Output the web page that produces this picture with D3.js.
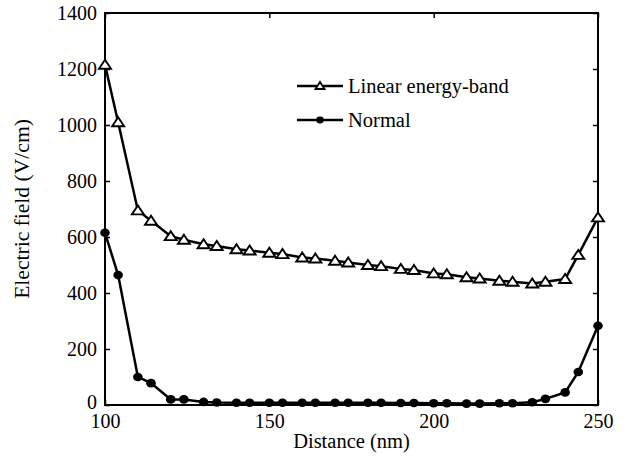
<!DOCTYPE html>
<html>
<head>
<meta charset="utf-8">
<script src="https://cdn.jsdelivr.net/npm/d3@7"></script>
<style>
  body { margin: 0; background: #fff; }
  text { font-family: "Liberation Serif", "Times New Roman", serif; fill: #000; }
</style>
</head>
<body>
<main></main>
<script>
// distance (nm)
const distance = [100, 104, 110, 114, 120, 124, 130, 134, 140, 144, 150, 154, 160, 164, 170, 174,
    180, 184, 190, 194, 200, 204, 210, 214, 220, 224, 230, 234, 240, 244, 250];
// electric field (V/cm)
const linearBand = [1215, 1010, 695, 658, 603, 590, 574, 568, 556, 552, 544, 539, 527, 523, 515, 509,
    500, 496, 486, 482, 470, 467, 456, 452, 444, 440, 434, 440, 450, 536, 670];
const normal = [615, 464, 100, 78, 20, 20, 11, 9, 8, 8, 8, 8, 8, 8, 8, 8,
    8, 8, 7, 7, 6, 6, 5, 5, 6, 6, 10, 22, 45, 118, 283];
const xTicks = [100, 150, 200, 250];
const yTicks = [0, 200, 400, 600, 800, 1000, 1200, 1400];
const seriesNames = ["Linear energy-band", "Normal"];

const width = 628;
const height = 463;
const margin = { top: 13, right: 30, bottom: 58, left: 105 };
const innerW = width - margin.left - margin.right;
const innerH = height - margin.top - margin.bottom;

const svg = d3.select("main")
    .append("svg")
    .attr("width", width)
    .attr("height", height);

const g = svg.append("g")
    .attr("transform", `translate(${margin.left},${margin.top})`);

const xScale = d3.scaleLinear().domain([100, 250]).range([0, innerW]);
const yScale = d3.scaleLinear().domain([0, 1400]).range([innerH, 0]);

// axes with inward ticks
g.append("g")
    .attr("transform", `translate(0,${innerH})`)
    .call(d3.axisBottom(xScale).tickValues(xTicks).tickFormat(d3.format("d"))
        .tickSizeInner(-5).tickSizeOuter(0).tickPadding(9));
const yAxisG = g.append("g")
    .call(d3.axisLeft(yScale).tickValues(yTicks).tickFormat(d3.format("d"))
        .tickSizeInner(-5).tickSizeOuter(0).tickPadding(8));
g.append("g")
    .call(d3.axisTop(xScale).tickValues(xTicks).tickSizeInner(-5).tickSizeOuter(0).tickFormat(""));
g.append("g")
    .attr("transform", `translate(${innerW},0)`)
    .call(d3.axisRight(yScale).tickValues(yTicks).tickSizeInner(-5).tickSizeOuter(0).tickFormat(""));

g.selectAll(".domain").remove();
g.selectAll(".tick line").attr("stroke", "#000").attr("stroke-width", 1.5);
g.selectAll(".tick text").style("font-size", "20px");
// lift the "0" a little so it clears the "100" below it
yAxisG.selectAll(".tick text").filter(d => d === 0).attr("y", -3);

// frame
g.append("rect")
    .attr("width", innerW)
    .attr("height", innerH)
    .attr("fill", "none")
    .attr("stroke", "#000")
    .attr("stroke-width", 2);

const line = d3.line()
    .x((d, i) => xScale(distance[i]))
    .y(d => yScale(d));

const triangle = "M-6,4L6,4L0,-5Z";
const smallTriangle = "M-4.5,3L4.5,3L0,-4Z";

// linear energy-band series
g.append("path")
    .datum(linearBand)
    .attr("fill", "none")
    .attr("stroke", "#000")
    .attr("stroke-width", 2.5)
    .attr("d", line);

// normal series
g.append("path")
    .datum(normal)
    .attr("fill", "none")
    .attr("stroke", "#000")
    .attr("stroke-width", 2.5)
    .attr("d", line);

g.selectAll(".tri")
    .data(linearBand)
    .enter()
    .append("path")
    .attr("class", "tri")
    .attr("d", triangle)
    .attr("transform", (d, i) => `translate(${xScale(distance[i])},${yScale(d)})`)
    .attr("fill", "#fff")
    .attr("stroke", "#000")
    .attr("stroke-width", 1.9);

g.selectAll(".dot")
    .data(normal)
    .enter()
    .append("ellipse")
    .attr("class", "dot")
    .attr("cx", (d, i) => xScale(distance[i]))
    .attr("cy", d => yScale(d))
    .attr("rx", 4.8)
    .attr("ry", 4.3)
    .attr("fill", "#000");

// legend
const legend = svg.append("g").attr("transform", "translate(297,86)");
seriesNames.forEach((name, i) => {
    const row = legend.append("g").attr("transform", `translate(0,${i * 34})`);
    row.append("line")
        .attr("x1", 0).attr("x2", 46)
        .attr("stroke", "#000").attr("stroke-width", 2.5);
    if (i === 0) {
        row.append("path")
            .attr("d", smallTriangle)
            .attr("transform", "translate(23,0)")
            .attr("fill", "#fff").attr("stroke", "#000").attr("stroke-width", 1.8);
    } else {
        row.append("ellipse")
            .attr("cx", 23).attr("rx", 3.8).attr("ry", 3.4)
            .attr("fill", "#000");
    }
    row.append("text")
        .attr("x", 51)
        .attr("dy", "0.35em")
        .style("font-size", "20.5px")
        .text(name);
});

// axis titles
svg.append("text")
    .attr("x", margin.left + innerW / 2)
    .attr("y", 448)
    .attr("text-anchor", "middle")
    .style("font-size", "20.5px")
    .text("Distance (nm)");

svg.append("text")
    .attr("transform", `translate(29,209) rotate(-90) scale(1.08,1)`)
    .attr("text-anchor", "middle")
    .style("font-size", "20px")
    .text("Electric field (V/cm)");
</script>
</body>
</html>
